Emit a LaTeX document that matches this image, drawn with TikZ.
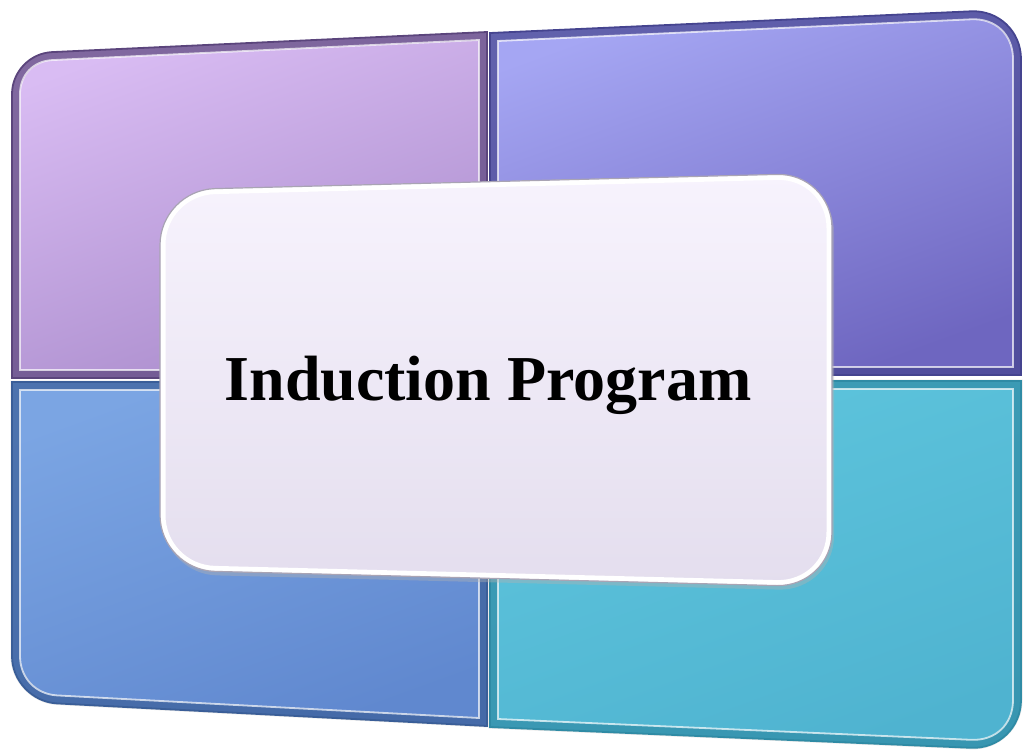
\documentclass[tikz,border=0pt]{standalone}
\usepackage{fontspec}
\setmainfont{Liberation Serif}
\definecolor{tlA}{HTML}{D9BCF3}\definecolor{tlB}{HTML}{A98BCB}\definecolor{tlE}{HTML}{5B457C}
\definecolor{trA}{HTML}{A5A6F3}\definecolor{trB}{HTML}{6E66C0}\definecolor{trE}{HTML}{45448F}
\definecolor{blA}{HTML}{7BA5E3}\definecolor{blB}{HTML}{6088CF}\definecolor{blE}{HTML}{3A5E98}
\definecolor{brA}{HTML}{5EC5DD}\definecolor{brB}{HTML}{4FB3D0}\definecolor{brE}{HTML}{2F8BA5}
\definecolor{cA}{HTML}{F7F3FD}\definecolor{cB}{HTML}{E4DEEE}\definecolor{cE}{HTML}{A9A4B4}
\newcommand{\qTL}[1]{({12+#1},{378-#1}) -- ({12+#1},94) .. controls ({12+#1},{71.9+0.4*#1}) and ({29.9+0.4*#1},{53.1+#1}) .. (52,{52.1+#1}) -- ({487-#1},{32+#1}) -- ({487-#1},{378-#1}) -- cycle}
\newcommand{\qTR}[1]{({490+#1},{375-#1}) -- ({490+#1},{33+#1}) -- (971,{11.3+#1}) .. controls ({998.6-0.4*#1},{10+#1}) and ({1021-#1},{31.4+0.4*#1}) .. ({1021-#1},59) -- ({1021-#1},{375-#1}) -- cycle}
\newcommand{\qBL}[1]{({12+#1},{382+#1}) -- ({487-#1},{382+#1}) -- ({487-#1},{726-#1}) -- (57,{703.4-#1}) .. controls ({32.2+0.4*#1},{702.1-#1}) and ({12+#1},{680.8-0.4*#1}) .. ({12+#1},656) -- cycle}
\newcommand{\qBR}[1]{({490+#1},{381+#1}) -- ({1021-#1},{381+#1}) -- ({1021-#1},700) .. controls ({1021-#1},{727.6-0.4*#1}) and ({998.6-0.4*#1},{749-#1}) .. (971,{747.8-#1}) -- ({490+#1},{727-#1}) -- cycle}
\newcommand{\qC}[1]{({160+#1},245) .. controls ({160+#1},{214.6+0.4*#1}) and ({184.6+0.4*#1},{189.4+#1}) .. (215,{188.6+#1}) -- (777,{174.4+#1}) .. controls ({807.4-0.4*#1},{173.6+#1}) and ({832-#1},{197.6+0.4*#1}) .. ({832-#1},228) -- ({832-#1},532) .. controls ({832-#1},{562.4-0.4*#1}) and ({807.4-0.4*#1},{586.2-#1}) .. (777,{585.6-#1}) -- (215,{571.4-#1}) .. controls ({184.6+0.4*#1},{570.6-#1}) and ({160+#1},{545.4-0.4*#1}) .. ({160+#1},515) -- cycle}
\tikzset{
  bevelband/.style={line width=16pt, opacity=0.7},
  hilite/.style={draw=white, line width=1.8pt, opacity=0.7},
  rim/.style={line width=1.8pt},
  title/.style={font=\bfseries\fontsize{64}{64}\selectfont, anchor=base, inner sep=0pt}
}
\begin{document}
\begin{tikzpicture}[x=1pt,y=-1pt]
\useasboundingbox (0,0) rectangle (1026,753);
% soft shadows
\fill[black!10] \qBL{-1.5};
\fill[black!10] \qBR{-1.5};
% top-left quadrant
\shade[top color=tlA, bottom color=tlB, shading angle=20] \qTL{0};
\begin{scope}\clip \qTL{0}; \draw[bevelband, draw=tlE] \qTL{0}; \end{scope}
\draw[hilite] \qTL{8};
\draw[rim, draw=tlE] \qTL{0};
% top-right quadrant
\shade[top color=trA, bottom color=trB, shading angle=20] \qTR{0};
\begin{scope}\clip \qTR{0}; \draw[bevelband, draw=trE] \qTR{0}; \end{scope}
\draw[hilite] \qTR{8};
\draw[rim, draw=trE] \qTR{0};
% bottom-left quadrant
\shade[top color=blA, bottom color=blB, shading angle=20] \qBL{0};
\begin{scope}\clip \qBL{0}; \draw[bevelband, draw=blE] \qBL{0}; \end{scope}
\draw[hilite] \qBL{8};
\draw[rim, draw=blE] \qBL{0};
% bottom-right quadrant
\shade[top color=brA, bottom color=brB, shading angle=20] \qBR{0};
\begin{scope}\clip \qBR{0}; \draw[bevelband, draw=brE] \qBR{0}; \end{scope}
\draw[hilite] \qBR{8};
\draw[rim, draw=brE] \qBR{0};
% centre box
\begin{scope}[shift={(2,4)}]\fill[black!30, opacity=0.4] \qC{0};\end{scope}
\shade[top color=cA, bottom color=cB] \qC{0};
\draw[white, line width=5pt] \qC{3};
\draw[draw=cE, line width=1.2pt] \qC{0};
\node[title] (t) at (488,400) {Induction Program};
\end{tikzpicture}
\end{document}
